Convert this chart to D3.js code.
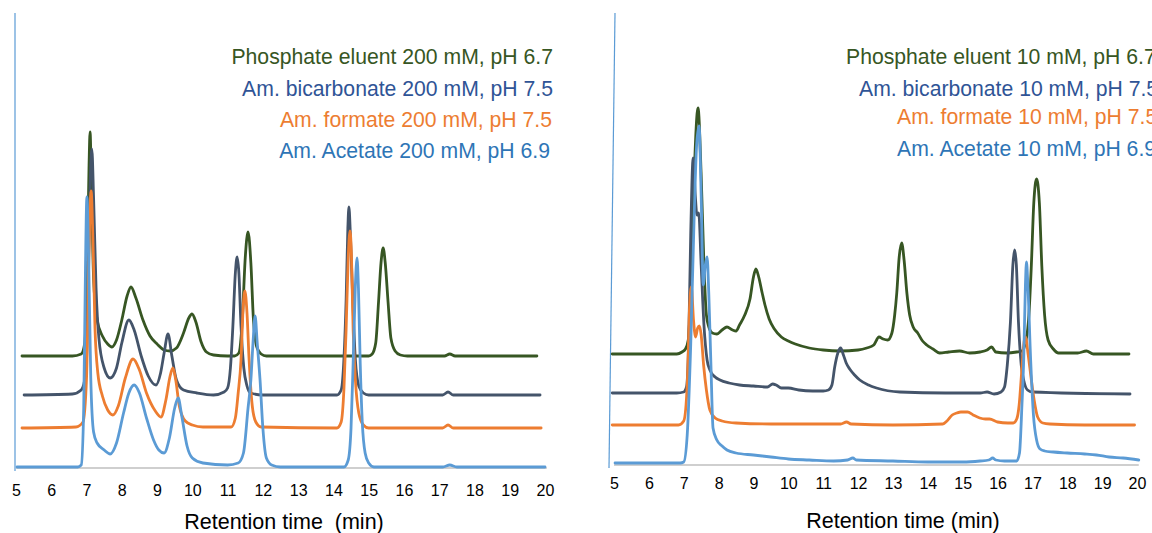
<!DOCTYPE html>
<html>
<head>
<meta charset="utf-8">
<script src="https://cdn.jsdelivr.net/npm/d3@7"></script>
<style>
  html, body { margin: 0; padding: 0; background: #fff; }
  svg { display: block; font-family: "Liberation Sans", Arial, sans-serif; }
</style>
</head>
<body>
<svg id="chart" width="1152" height="533"></svg>
<script>
// ---------- data (retention time [min], detector signal [a.u., stacked offset]) ----------
const tickValues = [5,6,7,8,9,10,11,12,13,14,15,16,17,18,19,20];
const seriesColors = ["#375623", "#44546A", "#ED7D31", "#5B9BD5"];
const labelColors  = ["#375623", "#2F5496", "#ED7D31", "#2E75B6"];
const labels200 = ["Phosphate eluent 200 mM, pH 6.7", "Am. bicarbonate 200 mM, pH 7.5", "Am. formate 200 mM, pH 7.5", "Am. Acetate 200 mM, pH 6.9"];
const labels10  = ["Phosphate eluent 10 mM, pH 6.7", "Am. bicarbonate 10 mM, pH 7.5", "Am. formate 10 mM, pH 7.5", "Am. Acetate 10 mM, pH 6.9"];
const xTitle200 = "Retention time  (min)";
const xTitle10  = "Retention time (min)";

const phosphate200 = [[5.17,112],[6.6,112],[6.85,114],[6.95,125],[7.02,200],[7.07,300],[7.10,336],[7.14,280],[7.2,190],[7.3,148],[7.45,132],[7.6,124],[7.72,121],[7.85,128],[8.0,148],[8.15,172],[8.26,181],[8.4,170],[8.6,148],[8.8,132],[9.0,124],[9.2,118],[9.37,117],[9.55,120],[9.75,135],[9.9,150],[9.99,154],[10.1,146],[10.25,126],[10.4,116],[10.6,113],[11.0,112],[11.2,112],[11.32,115],[11.42,150],[11.5,210],[11.58,236],[11.66,205],[11.73,150],[11.82,122],[11.95,114],[12.1,112],[15.0,112],[15.1,114],[15.2,125],[15.28,166],[15.35,205],[15.41,220],[15.47,205],[15.55,166],[15.63,130],[15.75,117],[15.9,113],[16.1,112],[17.15,112],[17.3,114],[17.45,112],[19.77,112]];
const bicarbonate200 = [[5.23,73],[6.6,74],[6.85,78],[6.98,95],[7.05,180],[7.10,280],[7.15,319],[7.2,270],[7.27,180],[7.35,130],[7.5,100],[7.67,90],[7.85,100],[8.0,125],[8.2,148],[8.35,138],[8.55,112],[8.75,92],[8.97,83],[9.1,95],[9.2,115],[9.31,134],[9.42,112],[9.55,88],[9.75,78],[10.13,75],[10.6,73],[10.9,76],[11.0,80],[11.08,100],[11.15,142],[11.22,195],[11.27,211],[11.32,195],[11.38,142],[11.46,100],[11.55,82],[11.65,75],[12.0,73],[14.1,73],[14.22,78],[14.3,110],[14.36,167],[14.41,240],[14.44,261],[14.48,235],[14.55,167],[14.62,110],[14.72,82],[14.85,75],[15.0,73],[17.1,73],[17.25,76],[17.4,73],[19.86,73]];
const formate200 = [[5.17,40],[6.7,41],[6.9,46],[7.0,90],[7.07,220],[7.13,277],[7.18,230],[7.24,140],[7.32,95],[7.45,72],[7.6,58],[7.75,53],[7.9,62],[8.1,90],[8.32,109],[8.5,98],[8.7,75],[8.95,57],[9.11,51],[9.25,68],[9.37,92],[9.45,100],[9.53,88],[9.63,62],[9.8,47],[10.0,43],[10.3,41],[11.1,41],[11.22,50],[11.3,75],[11.38,108],[11.44,160],[11.49,177],[11.55,155],[11.61,108],[11.7,62],[11.8,46],[11.95,41],[14.1,40],[14.22,46],[14.3,80],[14.36,138],[14.42,210],[14.47,237],[14.51,215],[14.56,138],[14.63,85],[14.72,55],[14.85,43],[15.0,40],[17.1,40],[17.25,43],[17.4,40],[19.89,40]];
const acetate200 = [[5.03,1],[6.75,1],[6.85,3],[6.92,60],[6.97,200],[7.01,271],[7.06,210],[7.12,90],[7.2,36],[7.3,25],[7.5,18],[7.67,14],[7.85,25],[8.05,55],[8.2,75],[8.35,83],[8.5,75],[8.7,50],[8.9,28],[9.05,18],[9.2,15],[9.35,30],[9.5,60],[9.6,70],[9.7,52],[9.85,22],[10.0,10],[10.3,5],[11.0,3],[11.3,5],[11.45,15],[11.58,60],[11.66,88],[11.72,125],[11.78,152],[11.84,125],[11.92,88],[12.0,40],[12.1,10],[12.25,3],[12.5,1],[14.3,1],[14.42,8],[14.5,40],[14.56,105],[14.62,180],[14.67,210],[14.71,180],[14.76,105],[14.82,45],[14.9,15],[15.0,5],[15.15,1],[17.1,1],[17.3,3],[17.5,1],[20.0,1]];

const phosphate10 = [[4.95,111],[6.8,111],[6.95,113],[7.05,116],[7.13,125],[7.2,170],[7.3,290],[7.41,357],[7.5,290],[7.58,200],[7.65,150],[7.72,138],[7.82,132],[7.95,131],[8.1,135],[8.24,138],[8.4,135],[8.5,134],[8.6,140],[8.75,150],[8.9,166],[9.0,188],[9.07,196],[9.15,188],[9.25,172],[9.33,160],[9.45,146],[9.6,136],[9.8,128],[10.0,124],[10.2,121],[10.6,117],[11.0,115],[11.48,114],[12.0,115],[12.25,117],[12.45,120],[12.6,128],[12.72,126],[12.85,125],[12.97,132],[13.05,150],[13.11,172],[13.18,208],[13.25,222],[13.32,205],[13.40,172],[13.48,150],[13.58,138],[13.71,132],[13.85,124],[13.97,120],[14.15,116],[14.34,112],[14.6,113],[14.91,114],[15.2,112],[15.5,113],[15.7,115],[15.83,118],[15.95,113],[16.26,112],[16.55,113],[16.7,114],[16.82,125],[16.9,150],[16.97,200],[17.04,262],[17.12,286],[17.2,262],[17.27,199],[17.35,150],[17.45,125],[17.6,116],[17.75,112],[18.3,112],[18.55,114],[18.75,111],[19.77,111]];
const bicarbonate10 = [[4.95,72],[6.8,72],[7.0,73],[7.08,78],[7.14,120],[7.2,230],[7.27,307],[7.33,270],[7.38,250],[7.43,252],[7.5,200],[7.58,140],[7.67,105],[7.75,95],[7.9,88],[8.04,85],[8.3,82],[8.6,80],[9.0,79],[9.4,78],[9.55,81],[9.65,80],[9.8,77],[10.0,77],[10.3,75],[10.7,74],[11.0,74],[11.15,75],[11.25,80],[11.33,98],[11.42,112],[11.5,117],[11.58,110],[11.66,102],[11.76,96],[11.9,90],[12.05,85],[12.3,80],[12.53,77],[13.2,73],[14.5,72],[15.5,72],[15.7,73],[15.9,71],[16.1,73],[16.2,78],[16.28,100],[16.37,143],[16.44,200],[16.49,215],[16.54,200],[16.6,143],[16.68,100],[16.77,82],[16.86,75],[17.0,73],[19.8,71]];
const formate10 = [[4.95,40],[6.85,40],[7.0,44],[7.1,80],[7.17,160],[7.22,178],[7.28,145],[7.34,128],[7.4,137],[7.45,139],[7.5,130],[7.57,100],[7.65,75],[7.75,55],[7.9,47],[8.1,44],[8.5,42],[9.5,41],[10.5,41],[11.5,41],[11.67,43],[11.8,41],[13.0,40],[14.43,41],[14.55,44],[14.7,50],[14.83,52],[14.95,53],[15.14,53],[15.3,50],[15.49,47],[15.65,46],[15.77,46],[16.0,43],[16.3,42],[16.45,42],[16.55,46],[16.62,60],[16.69,92],[16.75,120],[16.8,128],[16.88,110],[16.97,85],[17.05,65],[17.15,48],[17.3,42],[17.5,41],[18.5,40],[19.93,40]];
const acetate10 = [[5.03,2],[6.9,2],[7.0,3],[7.1,30],[7.2,120],[7.3,250],[7.37,320],[7.44,339],[7.5,270],[7.56,180],[7.62,200],[7.67,208],[7.72,170],[7.78,100],[7.84,37],[7.95,25],[8.1,19],[8.24,15],[8.5,12],[9.0,10],[9.5,8],[10.0,6],[10.6,5],[11.3,4],[11.7,5],[11.85,7],[11.95,5],[13.0,4],[14.0,3],[15.0,3],[15.5,4],[15.75,5],[15.86,7],[15.95,5],[16.2,4],[16.55,4],[16.63,12],[16.7,60],[16.75,105],[16.8,180],[16.83,203],[16.87,180],[16.95,105],[17.03,50],[17.12,25],[17.22,16],[17.35,14],[17.6,13],[18.0,12],[18.5,11],[18.84,10],[19.2,8],[19.6,7],[20.05,5]];

const series200 = [phosphate200, bicarbonate200, formate200, acetate200];
const series10  = [phosphate10, bicarbonate10, formate10, acetate10];

// ---------- drawing ----------
const svg = d3.select("#chart");

function panel(cfg) {
  const g = svg.append("g");
  const x = d3.scaleLinear().domain([5, 20]).range([cfg.x0, cfg.x1]);
  const y = d3.scaleLinear().domain([0, cfg.vmax]).range([cfg.yBase, 13]);

  // vertical axis line
  g.append("line")
    .attr("x1", x(5) + cfg.axTop).attr("y1", 13)
    .attr("x2", x(5) + cfg.axBot).attr("y2", cfg.yBase + 3)
    .attr("stroke", "#5B9BD5").attr("stroke-width", 1.2);

  // horizontal axis baseline
  g.append("line")
    .attr("x1", x(5)).attr("x2", x(20.05))
    .attr("y1", y(0)).attr("y2", y(0))
    .attr("stroke", "#BFBFBF").attr("stroke-width", 1.5);

  // tick labels
  const axis = d3.axisBottom(x).tickValues(tickValues).tickSize(0)
    .tickPadding(cfg.tickPad).tickFormat(d3.format("d"));
  const ag = g.append("g").attr("transform", `translate(0,${y(0)})`).call(axis);
  ag.select(".domain").remove();
  ag.selectAll("text").attr("font-size", 16).attr("fill", "#000")
    .attr("font-family", "Liberation Sans, Arial, sans-serif");

  // traces
  const line = d3.line().x(d => x(d[0])).y(d => y(d[1])).curve(d3.curveMonotoneX);
  g.selectAll("path.trace").data(cfg.series).join("path")
    .attr("class", "trace")
    .attr("d", line)
    .attr("fill", "none")
    .attr("stroke", (d, i) => seriesColors[i])
    .attr("stroke-width", 2.8)
    .attr("stroke-linejoin", "round")
    .attr("stroke-linecap", "round");

  // legend text
  g.selectAll("text.lg").data(cfg.labels).join("text")
    .attr("class", "lg")
    .attr("x", (d, i) => cfg.lgX[i])
    .attr("y", (d, i) => cfg.lgY[i])
    .attr("text-anchor", cfg.lgAnchor)
    .attr("font-size", 21.2)
    .attr("fill", (d, i) => labelColors[i])
    .text(d => d);

  // x title
  g.append("text")
    .attr("x", cfg.titleX).attr("y", cfg.titleY)
    .attr("text-anchor", "middle").attr("font-size", 21.5).attr("fill", "#000")
    .style("white-space", "pre")
    .text(cfg.title);
}

panel({
  x0: 16, x1: 545, vmax: 455, yBase: 468, axTop: -1, axBot: -1, tickPad: 17,
  series: series200, labels: labels200,
  lgX: [553, 553, 552, 550], lgY: [64, 96, 127, 158], lgAnchor: "end",
  title: xTitle200, titleX: 284, titleY: 529
});
panel({
  x0: 614, x1: 1137, vmax: 452, yBase: 465, axTop: 1, axBot: -5, tickPad: 13,
  series: series10, labels: labels10,
  lgX: [846, 859, 897, 897], lgY: [64, 96, 124, 156], lgAnchor: "start",
  title: xTitle10, titleX: 903, titleY: 528
});
</script>
</body>
</html>
